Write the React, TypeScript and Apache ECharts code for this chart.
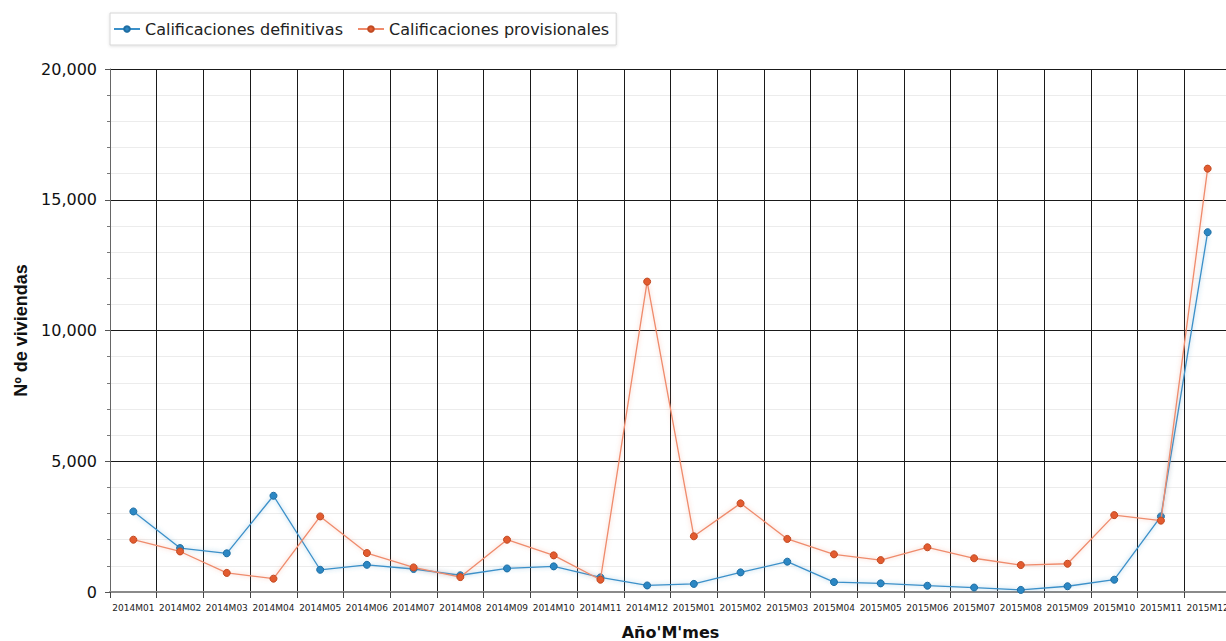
import React, { useEffect, useRef } from "react";
import * as echarts from "echarts";

const categories = [
  "2014M01", "2014M02", "2014M03", "2014M04", "2014M05", "2014M06",
  "2014M07", "2014M08", "2014M09", "2014M10", "2014M11", "2014M12",
  "2015M01", "2015M02", "2015M03", "2015M04", "2015M05", "2015M06",
  "2015M07", "2015M08", "2015M09", "2015M10", "2015M11", "2015M12",
];

const definitivas = [
  3080, 1680, 1480, 3680, 850, 1040, 880, 640, 900, 980, 560, 250,
  310, 750, 1160, 380, 330, 240, 170, 80, 220, 470, 2890, 13760,
];

const provisionales = [
  2000, 1550, 730, 510, 2890, 1490, 940, 570, 2000, 1400, 470, 11870,
  2130, 3390, 2030, 1440, 1220, 1710, 1290, 1030, 1080, 2940, 2730, 16190,
];

const seriesNames = ["Calificaciones definitivas", "Calificaciones provisionales"];
const yTicks = { min: 0, max: 20000, interval: 5000 };

export default function App() {
  const ref = useRef<HTMLDivElement>(null);
  useEffect(() => {
    if (!ref.current) return;
    const chart = echarts.init(ref.current, undefined, { renderer: "svg" });
    const font = "'DejaVu Sans', Verdana, sans-serif";
    chart.setOption({
      animation: false,
      backgroundColor: "#fff",
      textStyle: { fontFamily: font },
      legend: {
        left: 110,
        top: 13,
        padding: [8, 7, 8, 3],
        itemWidth: 26,
        itemHeight: 7,
        itemGap: 14,
        borderColor: "#d6d6d6",
        borderWidth: 1,
        backgroundColor: "#fff",
        shadowColor: "rgba(0,0,0,0.12)",
        shadowBlur: 3,
        shadowOffsetY: 1,
        textStyle: { fontFamily: font, fontSize: 16, color: "#222" },
        data: seriesNames,
      },
      graphic: [
        {
          type: "line",
          shape: { x1: 351, y1: 17, x2: 351, y2: 43 },
          style: { stroke: "#e2e2e2", lineWidth: 1 },
        },
      ],
      grid: {
        left: 110,
        top: 69,
        width: 1121,
        height: 523,
        containLabel: false,
        outerBoundsMode: "none",
      },
      xAxis: {
        type: "category",
        data: categories,
        boundaryGap: true,
        name: "Año'M'mes",
        nameLocation: "middle",
        nameGap: 32,
        nameTextStyle: { fontFamily: font, fontSize: 16, fontWeight: "bold", color: "#111" },
        axisLine: { show: true, lineStyle: { color: "#8a8a8a", width: 2 } },
        axisTick: { show: true, alignWithLabel: false, length: 6, lineStyle: { color: "#444" } },
        axisLabel: { fontFamily: font, fontSize: 9, color: "#222", margin: 11, interval: 0 },
        splitLine: { show: true, interval: 0, lineStyle: { color: "#1a1a1a", width: 1 } },
      },
      yAxis: {
        type: "value",
        min: yTicks.min,
        max: yTicks.max,
        interval: yTicks.interval,
        name: "Nº de viviendas",
        nameLocation: "middle",
        nameGap: 80,
        nameTextStyle: {
          fontFamily: "'Liberation Sans', Arial, sans-serif",
          fontSize: 18,
          fontWeight: "bold",
          color: "#111",
        },
        axisLine: { show: true, lineStyle: { color: "#666", width: 1 } },
        axisTick: { show: true, length: 5, lineStyle: { color: "#555" } },
        minorTick: { show: true, splitNumber: 5, length: 3, lineStyle: { color: "#777" } },
        axisLabel: {
          fontFamily: font,
          fontSize: 16,
          color: "#111",
          margin: 13,
          formatter: (v: number) => v.toLocaleString("en-US"),
        },
        splitLine: { show: true, lineStyle: { color: "#1a1a1a", width: 1 } },
        minorSplitLine: { show: true, lineStyle: { color: "#ececec", width: 1 } },
      },
      series: [
        {
          name: seriesNames[0],
          type: "line",
          data: definitivas,
          symbol: "circle",
          symbolSize: 7,
          itemStyle: { color: "#2b87c4", borderColor: "#1f6ea3", borderWidth: 1 },
          lineStyle: {
            color: "#3b90c9",
            width: 1.3,
            shadowColor: "rgba(59,144,201,0.5)",
            shadowBlur: 4,
          },
          z: 3,
        },
        {
          name: seriesNames[1],
          type: "line",
          data: provisionales,
          symbol: "circle",
          symbolSize: 7,
          itemStyle: { color: "#e35b2f", borderColor: "#c04a22", borderWidth: 1 },
          lineStyle: {
            color: "#ef8b6c",
            width: 1.3,
            shadowColor: "rgba(239,139,108,0.5)",
            shadowBlur: 4,
          },
          z: 4,
        },
      ],
    });
    return () => chart.dispose();
  }, []);
  return (
    <div
      ref={ref}
      style={{ position: "fixed", left: 0, top: 0, width: 1226, height: 641 }}
    />
  );
}
